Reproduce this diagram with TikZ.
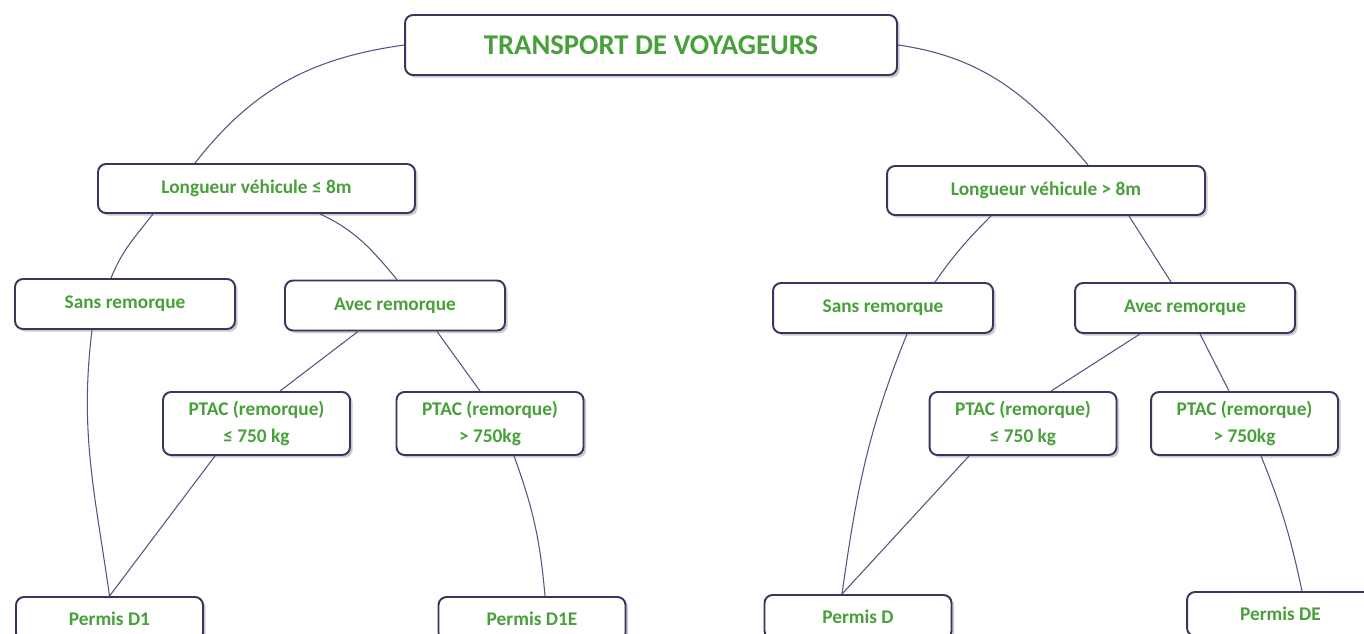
\documentclass[tikz,border=0pt]{standalone}
\usepackage{fontspec}
\setmainfont{Carlito}
\usetikzlibrary{shadows,calc}
\definecolor{tgreen}{RGB}{72,160,58}
\definecolor{bord}{RGB}{52,55,95}
\definecolor{conn}{RGB}{80,84,130}
\begin{document}
\begin{tikzpicture}[x=0.02cm,y=-0.02cm,
  box/.style={draw=bord, line width=1.1pt, rounded corners=0.16cm, fill=white,
    drop shadow={shadow xshift=1.5pt, shadow yshift=-1.5pt, opacity=0.35, fill=black!60},
    font=\bfseries\fontsize{11}{15.3}\selectfont, text=tgreen, align=center, inner sep=0pt},
  titlebox/.style={box, font=\bfseries\fontsize{16.3}{20}\selectfont},
  lvl/.style={box, minimum width=6.34cm, minimum height=0.98cm},
  mid/.style={box, minimum width=4.4cm, minimum height=1.0cm},
  ptac/.style={box, minimum width=3.74cm, minimum height=1.26cm},
  permis/.style={box, minimum width=3.74cm, minimum height=0.88cm},
  link/.style={draw=conn, line width=0.6pt}]
\useasboundingbox (0,0) rectangle (1364,633);
\clip (0,0) rectangle (1364,633);

\node[titlebox, minimum width=9.84cm, minimum height=1.2cm] (top) at (651,45) {TRANSPORT DE VOYAGEURS};
\node[lvl] (L8) at (256.5,188.5) {Longueur véhicule ≤ 8m};
\node[lvl, minimum width=6.36cm] (G8) at (1046,190.5) {Longueur véhicule > 8m};
\node[mid] (SansL) at (125,304) {Sans remorque};
\node[mid] (AvecL) at (395,305.5) {Avec remorque};
\node[mid] (SansR) at (883,308) {Sans remorque};
\node[mid] (AvecR) at (1185,308) {Avec remorque};
\node[ptac] (PL1) at (256.5,423.5) {PTAC (remorque)\\≤ 750 kg};
\node[ptac] (PL2) at (490,423.5) {PTAC (remorque)\\> 750kg};
\node[ptac] (PR1) at (1023,423.5) {PTAC (remorque)\\≤ 750 kg};
\node[ptac] (PR2) at (1244.5,423.5) {PTAC (remorque)\\> 750kg};
\node[permis] (D1) at (109.5,619) {Permis D1};
\node[permis] (D1E) at (532,619) {Permis D1E};
\node[permis] (D) at (858,617) {Permis D};
\node[permis] (DE) at (1280.5,614) {Permis DE};

\draw[link] (top.west) to[out=188, in=52] ($(L8.north)+(-61.5,0)$);
\draw[link] (top.east) to[out=-8, in=130] ($(G8.north)+(42,0)$);
\draw[link] ($(L8.south)+(-103.5,0)$) to[out=-128, in=68] ($(SansL.north)+(-14,0)$);
\draw[link] ($(L8.south)+(63.5,0)$) to[out=-25, in=130] ($(AvecL.north)+(2,0)$);
\draw[link] ($(AvecL.south)+(-37,0)$) -- ($(PL1.north)+(23.5,0)$);
\draw[link] ($(AvecL.south)+(42,0)$) -- ($(PL2.north)+(-10,0)$);
\draw[link] ($(SansL.south)+(-33,0)$) to[out=-97, in=98] (D1.north);
\draw[link] ($(PL1.south)+(-41.5,0)$) -- (D1.north);
\draw[link] ($(PL2.south)+(24,0)$) to[out=-70, in=95] ($(D1E.north)+(13,0)$);
\draw[link] ($(G8.south)+(-55,0)$) to[out=-135, in=55] ($(SansR.north)+(52,0)$);
\draw[link] ($(G8.south)+(83,0)$) -- ($(AvecR.north)+(-14,0)$);
\draw[link] ($(AvecR.south)+(-45,0)$) -- ($(PR1.north)+(28,0)$);
\draw[link] ($(AvecR.south)+(15,0)$) -- ($(PR2.north)+(-15.5,0)$);
\draw[link] ($(SansR.south)+(24,0)$) to[out=-112, in=82] ($(D.north)+(-16,0)$);
\draw[link] ($(PR1.south)+(-54,0)$) -- ($(D.north)+(-16,0)$);
\draw[link] ($(PR2.south)+(16.5,0)$) to[out=-68, in=102] ($(DE.north)+(21.5,0)$);
\end{tikzpicture}
\end{document}
